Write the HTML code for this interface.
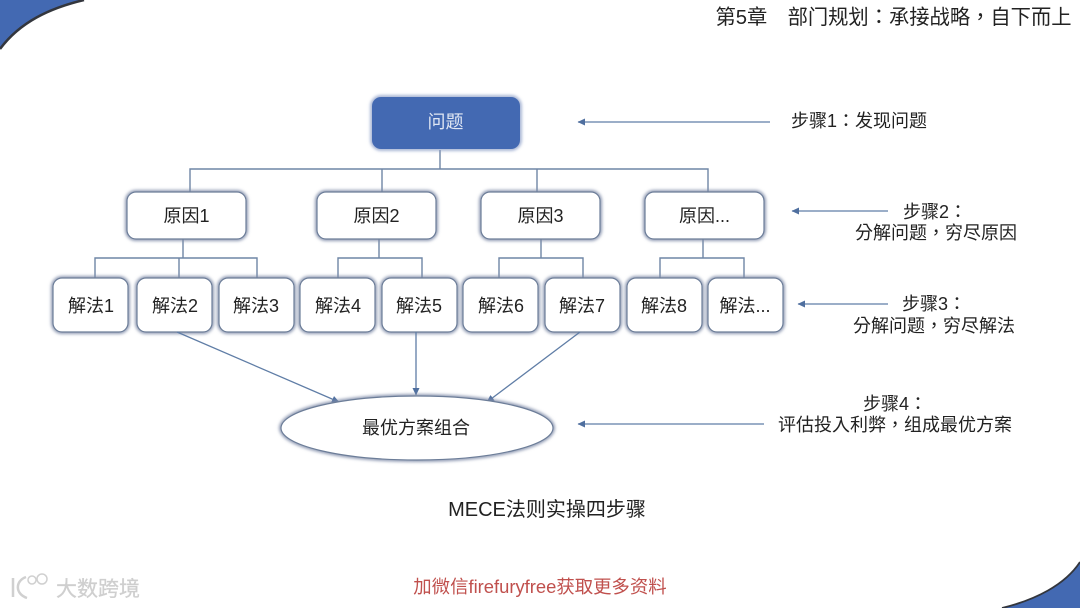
<!DOCTYPE html>
<html><head><meta charset="utf-8"><style>
html,body{margin:0;padding:0;background:#fff}
svg{display:block}
text{font-family:"Liberation Sans","Noto Sans CJK TC",sans-serif;fill:#222;text-anchor:middle;font-size:18px}
</style></head><body>
<svg width="1080" height="608" viewBox="0 0 1080 608" xmlns="http://www.w3.org/2000/svg">
<defs>
<filter id="s" x="-15%" y="-15%" width="130%" height="130%"><feGaussianBlur stdDeviation="1.500"/></filter>
<filter id="w" x="-20%" y="-40%" width="140%" height="180%"><feGaussianBlur stdDeviation="1.500"/></filter>
<marker id="a" markerWidth="8" markerHeight="8" refX="7" refY="4" orient="auto" markerUnits="userSpaceOnUse"><path d="M0,0.5L7.5,4L0,7.5Z" fill="#4f6f9f"/></marker>
<g id="b1"><rect x="0" y="0" width="119" height="47" rx="9" fill="none" stroke="#7f8ba8" stroke-width="3.500" filter="url(#s)"/><rect x="0" y="0" width="119" height="47" rx="9" fill="#fff" stroke="#6c7d98" stroke-width="1.200"/></g>
<g id="b2"><rect x="0" y="0" width="75" height="54" rx="9" fill="none" stroke="#7f8ba8" stroke-width="3.500" filter="url(#s)"/><rect x="0" y="0" width="75" height="54" rx="9" fill="#fff" stroke="#6c7d98" stroke-width="1.200"/></g>
</defs>

<path d="M0,0H84C50,8 20,22 0,49Z" fill="#4369b2"/>
<path d="M0,49C20,22 50,8 84,0" fill="none" stroke="#33363d" stroke-width="2.500"/>
<path d="M1002,608C1035,600 1065,585 1080,562V608Z" fill="#4369b2"/>
<path d="M1002,608C1035,600 1065,585 1080,562" fill="none" stroke="#33363d" stroke-width="1.800"/>

<g fill="none" stroke="#6f86a5" stroke-width="1.400">
<path d="M440,150V169M190,192V169H708V192M382,169V192M537,169V192"/>
<path d="M183,239V258M95,278V258H257V278M179,258V278"/>
<path d="M379,239V258M338,278V258H422V278"/>
<path d="M541,239V258M499,278V258H583V278"/>
<path d="M703,239V258M660,278V258H744V278"/>
</g>

<rect x="372" y="97" width="148" height="52" rx="9" fill="none" stroke="#8d9fc8" stroke-width="3" filter="url(#s)"/>
<rect x="372" y="97" width="148" height="52" rx="9" fill="#4369b2"/>
<text x="445.500" y="128" style="fill:#dfe6f3">问题</text>

<use href="#b1" x="127" y="192"/><text x="186.500" y="222">原因1</text>
<use href="#b1" x="317" y="192"/><text x="376.500" y="222">原因2</text>
<use href="#b1" x="481" y="192"/><text x="540.500" y="222">原因3</text>
<use href="#b1" x="645" y="192"/><text x="704.500" y="222">原因...</text>

<use href="#b2" x="53" y="278"/><text x="91" y="312">解法1</text>
<use href="#b2" x="137" y="278"/><text x="175" y="312">解法2</text>
<use href="#b2" x="219" y="278"/><text x="256" y="312">解法3</text>
<use href="#b2" x="300" y="278"/><text x="338" y="312">解法4</text>
<use href="#b2" x="382" y="278"/><text x="419" y="312">解法5</text>
<use href="#b2" x="463" y="278"/><text x="501" y="312">解法6</text>
<use href="#b2" x="545" y="278"/><text x="582" y="312">解法7</text>
<use href="#b2" x="627" y="278"/><text x="664" y="312">解法8</text>
<use href="#b2" x="708" y="278"/><text x="745" y="312">解法...</text>

<g fill="none" stroke="#5f7da6" stroke-width="1.300">
<path d="M177,332L339,402" marker-end="url(#a)"/>
<path d="M416,332V395" marker-end="url(#a)"/>
<path d="M580,332L487,402" marker-end="url(#a)"/>
<path d="M770,122H578" marker-end="url(#a)"/>
<path d="M888,211H792" marker-end="url(#a)"/>
<path d="M888,304H798" marker-end="url(#a)"/>
<path d="M764,424H578" marker-end="url(#a)"/>
</g>

<ellipse cx="417" cy="428" rx="136" ry="32" fill="none" stroke="#7f8ba8" stroke-width="3.500" filter="url(#s)"/>
<ellipse cx="417" cy="428" rx="136" ry="32" fill="#fff" stroke="#6c7d98" stroke-width="1.200"/>
<text x="416" y="434" style="font-size:18px">最优方案组合</text>

<text x="859" y="127" style="font-size:18px">步骤1：发现问题</text>
<text x="935" y="218" style="font-size:18px">步骤2：</text>
<text x="936" y="239" style="font-size:18px">分解问题，穷尽原因</text>
<text x="934" y="310" style="font-size:18px">步骤3：</text>
<text x="934" y="332" style="font-size:18px">分解问题，穷尽解法</text>
<text x="895" y="410" style="font-size:18px">步骤4：</text>
<text x="895" y="431" style="font-size:18px">评估投入利弊，组成最优方案</text>

<text x="893.500" y="24" style="font-size:20.300px">第5章　部门规划：承接战略，自下而上</text>
<text x="547" y="516" style="font-size:20px">MECE法则实操四步骤</text>
<text x="540" y="593" style="font-size:18.400px;fill:#c0504d">加微信firefuryfree获取更多资料</text>

<g stroke="#fff" stroke-opacity="0">
<text x="98" y="596" style="font-size:21px;fill:#cfcfcf;stroke:#cfcfcf;stroke-opacity:1;stroke-width:.3">大数跨境</text>
<path d="M13,578V597M26,577C15,581 15,594 27,598" fill="none" stroke="#d0d0d0" stroke-opacity="1" stroke-width="2.500"/>
<circle cx="32" cy="580" r="4" fill="none" stroke="#d0d0d0" stroke-opacity="1" stroke-width="1.500"/>
<circle cx="42" cy="579" r="5" fill="none" stroke="#d0d0d0" stroke-opacity="1" stroke-width="1.500"/>
</g>
</svg>
</body></html>
